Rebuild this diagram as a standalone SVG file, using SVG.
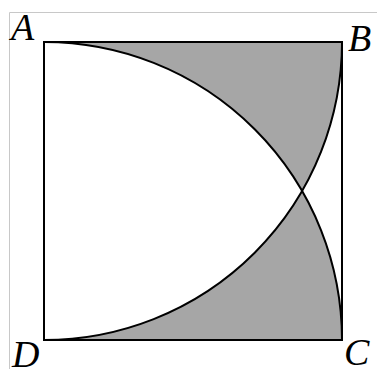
<svg xmlns="http://www.w3.org/2000/svg" width="377" height="369" viewBox="0 0 377 369">
<style>
.lbl{font-family:"Liberation Serif","Times New Roman",serif;font-style:italic;font-size:38px;fill:#000}
.edge{fill:none;stroke:#000;stroke-width:2}
</style>
<rect width="377" height="369" fill="#fff"/>
<path d="M9.5,369 V12.5 H377" fill="none" stroke="#c8c8c8" stroke-width="1"/>
<g id="shade">
<path d="M44,340 L44,42 A298,298 0 0 1 342,340 Z M44,42 L44,340 A298,298 0 0 0 342,42 Z" fill="#a6a6a6" fill-rule="evenodd"/>
</g>
<g id="connectors">
<rect class="edge" x="44" y="42" width="298" height="298"/>
<path class="edge" d="M44,42 A298,298 0 0 1 342,340"/>
<path class="edge" d="M44,340 A298,298 0 0 0 342,42"/>
</g>
<g id="A"><text class="lbl" x="11" y="40">A</text></g>
<g id="B"><text class="lbl" x="348" y="51">B</text></g>
<g id="C"><text class="lbl" x="344" y="365">C</text></g>
<g id="D"><text class="lbl" x="12" y="367">D</text></g>
</svg>
